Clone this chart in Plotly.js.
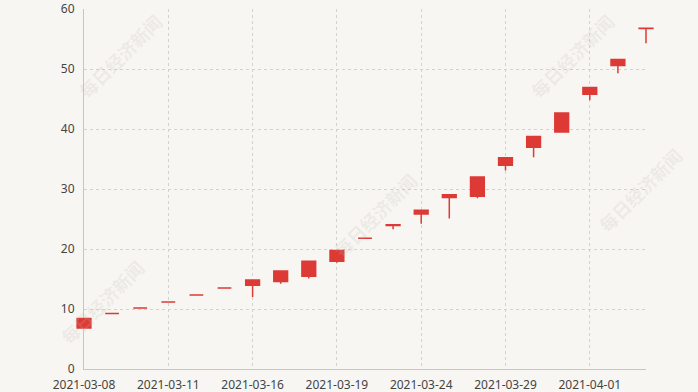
<!DOCTYPE html>
<html>
<head>
<meta charset="utf-8">
<script src="https://cdn.plot.ly/plotly-3.0.1.min.js"></script>
<style>
  html, body { margin: 0; padding: 0; background: #f8f6f2; }
  #chart { width: 698px; height: 392px; }
</style>
</head>
<body>
<div id="chart"></div>
<script>
// ---- data ----
const dates = ['2021-03-08','2021-03-09','2021-03-10','2021-03-11','2021-03-12','2021-03-15',
               '2021-03-16','2021-03-17','2021-03-18','2021-03-19','2021-03-22','2021-03-23',
               '2021-03-24','2021-03-25','2021-03-26','2021-03-29','2021-03-30','2021-03-31',
               '2021-04-01','2021-04-02','2021-04-06'];
const openPrices  = [6.85, 9.27, 10.17, 11.17, 12.33, 13.5, 13.95, 14.6, 15.45, 17.95, 21.8, 23.9,
                     25.85, 28.6, 28.8, 33.95, 36.95, 39.5, 45.8, 50.6, 56.75];
const closePrices = [8.4, 9.27, 10.17, 11.17, 12.33, 13.5, 14.85, 16.33, 17.97, 19.77, 21.8, 24.05,
                     26.45, 29.05, 32.0, 35.2, 38.75, 42.65, 46.9, 51.6, 56.8];
const highPrices  = [8.4, 9.27, 10.17, 11.17, 12.33, 13.5, 14.85, 16.33, 17.97, 19.8, 21.8, 24.05,
                     26.45, 29.05, 32.0, 35.2, 38.75, 42.65, 46.9, 51.6, 56.8];
const lowPrices   = [6.85, 9.27, 10.17, 11.17, 12.33, 13.5, 12.0, 14.2, 15.1, 17.7, 21.8, 23.3,
                     24.2, 25.1, 28.45, 33.1, 35.3, 39.5, 44.8, 49.3, 54.3];
const yTicks = [0, 10, 20, 30, 40, 50, 60];
const watermark = '每日经济新闻';

// ---- layout geometry ----
const W = 698, H = 392;
const mL = 76, mR = 44, mT = 9, mB = 23;
const plotW = W - mL - mR, plotH = H - mT - mB;
const pad = 8;                       // px of room so edge candles are not clipped
const n = dates.length - 1;
const ext = n * pad / (plotW - 2 * pad);
const d0 = pad / plotW, d1 = 1 - pad / plotW;

const red = '#dd3a35';
const gridColor = '#d4d2ce';
const axisColor = '#c8c6c2';
const tickFont = { family: 'Noto Sans, DejaVu Sans, sans-serif', size: 12, color: '#444' };

// grid / axes subplot (invisible helper points so the category axis exists)
const helper = {
  type: 'scatter', mode: 'markers', x: dates, y: closePrices,
  xaxis: 'x', yaxis: 'y', marker: { opacity: 0 }, hoverinfo: 'skip', showlegend: false
};

const candles = {
  type: 'candlestick', x: dates,
  open: openPrices, high: highPrices, low: lowPrices, close: closePrices,
  xaxis: 'x2', yaxis: 'y2',
  increasing: { line: { color: red, width: 1.5 }, fillcolor: red },
  decreasing: { line: { color: red, width: 1.5 }, fillcolor: red },
  whiskerwidth: 0, showlegend: false, hoverinfo: 'x+y'
};

function px(x) { return (x - mL) / plotW; }
function py(y) { return (H - mB - y) / plotH; }
const wmPos = [[120, 56], [572, 56], [375, 215], [102, 302], [640, 190]];
const annotations = wmPos.map(p => ({
  xref: 'paper', yref: 'paper', x: px(p[0]), y: py(p[1]),
  xanchor: 'center', yanchor: 'middle',
  text: '<b>' + watermark + '</b>', showarrow: false, textangle: -45,
  font: { family: 'Noto Sans CJK SC, sans-serif', size: 18, color: 'rgba(190,185,180,0.2)' }
}));

const layout = {
  width: W, height: H,
  margin: { l: mL, r: mR, t: mT, b: mB, pad: 0 },
  paper_bgcolor: '#f8f6f2',
  plot_bgcolor: 'rgba(0,0,0,0)',
  showlegend: false,
  boxgap: 0.3, boxgroupgap: 0.3,
  xaxis: {
    type: 'category', categoryorder: 'array', categoryarray: dates,
    domain: [d0, d1], range: [0, n], anchor: 'y',
    tickmode: 'linear', tick0: 0, dtick: 3,
    showgrid: true, gridcolor: gridColor, griddash: 'dot', gridwidth: 1,
    showline: true, linecolor: axisColor, linewidth: 1,
    ticks: 'outside', ticklen: 5, tickcolor: 'rgba(0,0,0,0)',
    tickfont: tickFont, fixedrange: true, rangeslider: { visible: false }
  },
  yaxis: {
    range: [0, 60], anchor: 'x', domain: [0, 1],
    tickmode: 'array', tickvals: yTicks,
    showgrid: true, gridcolor: gridColor, griddash: 'dot', gridwidth: 1,
    zeroline: false,
    showline: true, linecolor: axisColor, linewidth: 1,
    ticks: 'outside', ticklen: 6, tickcolor: 'rgba(0,0,0,0)',
    tickfont: tickFont, fixedrange: true
  },
  xaxis2: {
    type: 'category', categoryorder: 'array', categoryarray: dates,
    domain: [0, 1], range: [-ext, n + ext], anchor: 'y2',
    visible: false, showgrid: false, fixedrange: true,
    rangeslider: { visible: false }
  },
  yaxis2: {
    range: [0, 60], anchor: 'x2', domain: [0, 1],
    visible: false, showgrid: false, zeroline: false, fixedrange: true
  },
  annotations: annotations
};

Plotly.newPlot('chart', [helper, candles], layout, { displayModeBar: false, staticPlot: true });
</script>
</body>
</html>
